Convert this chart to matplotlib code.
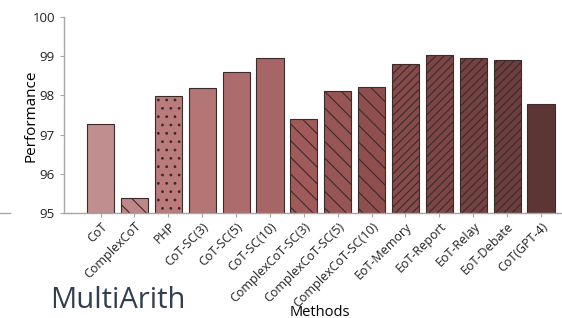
import matplotlib
matplotlib.use("Agg")
import matplotlib.pyplot as plt
from matplotlib.lines import Line2D

plt.rcParams['font.family'] = ['Open Sans', 'DejaVu Sans']
plt.rcParams['hatch.linewidth'] = 0.8

# data
methods = ["CoT", "ComplexCoT", "PHP", "CoT-SC(3)", "CoT-SC(5)", "CoT-SC(10)",
           "ComplexCoT-SC(3)", "ComplexCoT-SC(5)", "ComplexCoT-SC(10)",
           "EoT-Memory", "EoT-Report", "EoT-Relay", "EoT-Debate", "CoT(GPT-4)"]
scores = [97.27, 95.38, 97.98, 98.18, 98.59, 98.96,
          97.41, 98.12, 98.21, 98.79, 99.02, 98.96, 98.90, 97.79]
colors = ["#c08e8e", "#bf8888", "#b97b7b", "#b47575", "#ad6c6c", "#a86565",
          "#a05a5a", "#985555", "#904f4f", "#854a4a", "#7d4646", "#754242",
          "#6d3e3e", "#5e3535"]
hatches = ["", "\\\\", "..", "", "", "",
           "\\\\", "\\\\", "\\\\", "////", "////", "////", "////", ""]
yticks = [95, 96, 97, 98, 99, 100]

fig = plt.figure(figsize=(5.62, 3.18), dpi=100)
ax = fig.add_axes([64/562, 1 - 213/318, 1 - 64/562, (213 - 17)/318])

x = range(len(methods))
bars = ax.bar(x, [s - 95 for s in scores], bottom=95, width=0.8,
              color=colors, edgecolor="#3b2a2a", linewidth=0.8)
for b, h in zip(bars, hatches):
    b.set_hatch(h)

ax.set_ylim(95, 100)
ax.set_xlim(-1.08, 13.62)
ax.set_yticks(yticks)
ax.set_yticklabels([str(t) for t in yticks], fontsize=9.5, color="#222222")
ax.set_xticks(list(x))
ax.set_xticklabels(methods, rotation=45, ha="right", rotation_mode="anchor",
                   fontsize=9, color="#222222")
ax.tick_params(axis="both", color="#a6a6a6", length=3, width=0.8)
ax.tick_params(axis="x", pad=2)

for s in ["top", "right"]:
    ax.spines[s].set_visible(False)
for s in ["left", "bottom"]:
    ax.spines[s].set_color("#a6a6a6")
    ax.spines[s].set_linewidth(1.0)

fig.text(31/562, 1 - 116/318, "Performance", fontsize=11, rotation=90,
         ha="center", va="center")
fig.text(320/562, 1 - 312/318, "Methods", fontsize=10.5, ha="center", va="center")
fig.text(50/562, 1 - 301/318, "MultiArith", fontsize=21, color="#333f50",
         ha="left", va="center")

# fragment of neighbouring chart axis on the left edge
fig.add_artist(Line2D([0, 10/562], [1 - 213/318, 1 - 213/318],
                      transform=fig.transFigure, color="#a6a6a6", linewidth=1.0))

fig.savefig("out.png", dpi=100)
